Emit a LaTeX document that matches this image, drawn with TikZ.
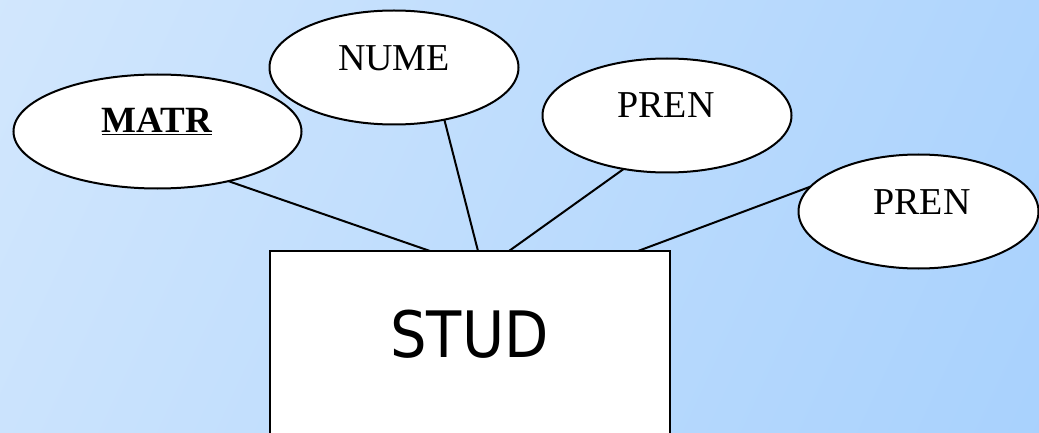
\documentclass[tikz,border=0pt]{standalone}
\usepackage{fontspec}
\setmainfont{Liberation Serif}
\newfontfamily\boxfont{DejaVu Sans Condensed}
\usetikzlibrary{shapes.geometric}
\definecolor{bgA}{RGB}{220,236,253}
\definecolor{bgB}{RGB}{158,204,253}
\pgfdeclarehorizontalshading{backdrop}{100bp}{color(0bp)=(bgA); color(100bp)=(bgB)}
\tikzset{
  attr/.style={ellipse, draw, line width=2pt, fill=white, inner sep=0pt, outer sep=0pt, minimum height=114},
  attrtext/.style={anchor=base, inner sep=0pt, font=\fontsize{38}{42}\selectfont},
  entity/.style={rectangle, draw, line width=2pt, fill=white, inner sep=0pt, outer sep=0pt, minimum width=400, minimum height=260},
  link/.style={line width=2pt}
}
\begin{document}
\begin{tikzpicture}[x=1pt, y=-1pt]
  \useasboundingbox (0,0) rectangle (1039,433);
  \clip (0,0) rectangle (1039,433);
  % gradient backdrop
  \shade[shading=backdrop, shading angle=-25] (0,0) rectangle (1039,433);

  % attribute ellipses
  \node[attr, minimum width=288] (matr) at (157.5,131.5) {};
  \node[attr, minimum width=249] (nume) at (394,67.5) {};
  \node[attr, minimum width=249] (pren1) at (667,115.5) {};
  \node[attr, minimum width=240] (pren2) at (918.5,211.5) {};

  % entity box, running past the lower edge
  \node[entity] (stud) at (469.5,381) {};

  % links from attributes to the entity
  \draw[link] (matr.-35) -- ([xshift=-39.5pt]stud.north);
  \draw[link] (nume.-46) -- ([xshift=8.5pt]stud.north);
  \draw[link] (pren1.-129.5) -- ([xshift=39.5pt]stud.north);
  \draw[link] (pren2.167) -- ([xshift=168.5pt]stud.north);

  % labels
  \node[attrtext, font=\fontsize{37}{42}\selectfont] (tmatr) at (157,133) {\textbf{\underline{MATR}}};
  \node[attrtext] (tnume) at (394,71) {NUME};
  \node[attrtext] (tpren1) at (666,118) {PREN};
  \node[attrtext] (tpren2) at (922,214) {PREN};
  \node[anchor=base, inner sep=0pt, font=\boxfont\fontsize{64}{70}\selectfont] (tstud) at (469.5,357) {STUD};
\end{tikzpicture}
\end{document}
